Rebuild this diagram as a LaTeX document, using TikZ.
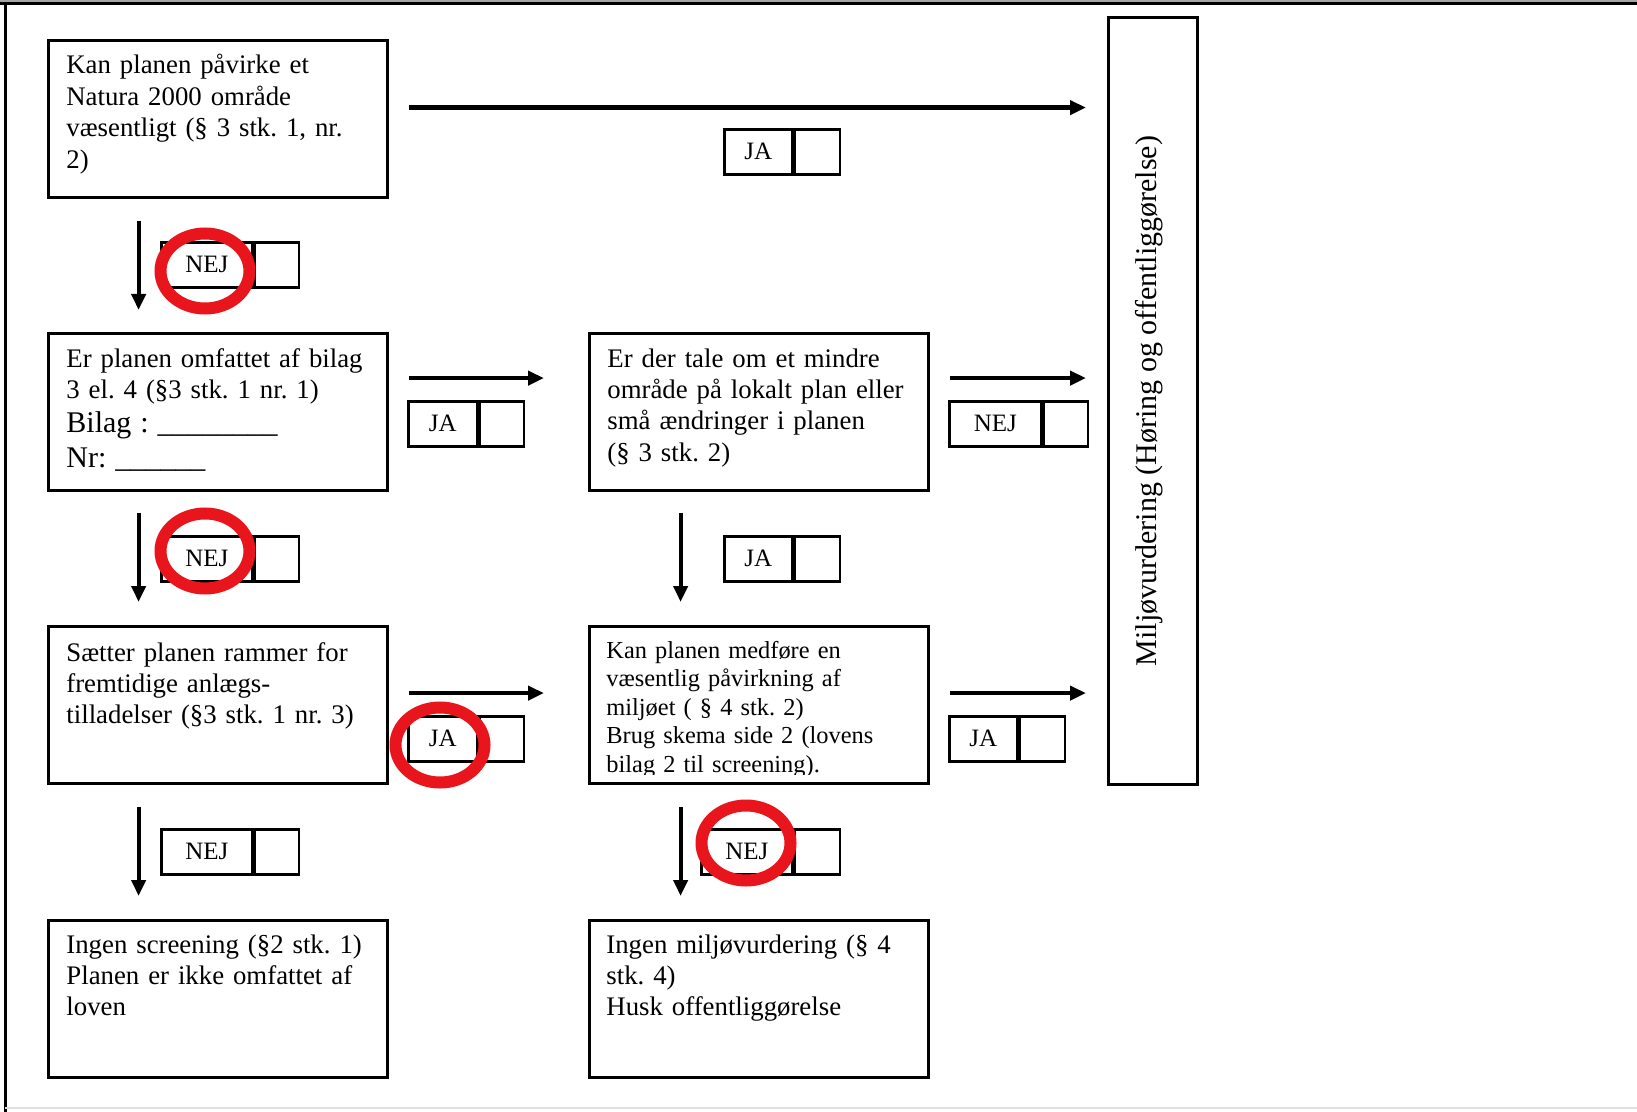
\documentclass[tikz,border=0pt]{standalone}
\usepackage{fontspec}
\setmainfont{Liberation Serif}
\usetikzlibrary{arrows.meta,calc}
\definecolor{ringred}{RGB}{232,22,28}
\frenchspacing
\tikzset{
  box/.style={draw, line width=1.6pt, minimum width=169.5pt, minimum height=78.5pt, anchor=north west, inner sep=0pt},
  btext/.style={anchor=base west, inner sep=0pt, text width=168pt, align=left, font=\fontsize{13.4}{15.7}\selectfont\frenchspacing},
  stext/.style={anchor=base west, inner sep=0pt, text width=168pt, align=left, font=\fontsize{12.2}{14.25}\selectfont\frenchspacing},
  lab/.style={draw, line width=1.35pt, minimum height=22.5pt, inner sep=0pt, anchor=north west, font=\fontsize{12.5}{14}\selectfont},
  labe/.style={draw, line width=1.35pt, minimum height=22.5pt, inner sep=0pt, anchor=west},
  arr/.style={line width=2.1pt, -{Triangle[length=8pt,width=7pt]}},
  ring/.style={draw=ringred, line width=6pt},
}
\begin{document}
\begin{tikzpicture}[x=0.5pt,y=-0.5pt]
\useasboundingbox (0,0) rectangle (1637,1112);
\fill[white] (0,0) rectangle (1637,1112);
% frame
\fill[black!35] (0,0) rectangle (1637,2.5);
\draw[line width=1.5pt] (0,4) -- (1637,4);
\draw[line width=1.5pt] (5,4) -- (5,1112);
\draw[black!12, line width=0.8pt] (5,1108) -- (1637,1108);

% boxes
\node[box] (b1) at (47,39) {};
\node[box] (b2) at (47,332) {};
\node[box] (b3) at (47,625) {};
\node[box] (b4) at (47,919) {};
\node[box] (b5) at (588,332) {};
\node[box] (b6) at (588,625) {};
\node[box] (b7) at (588,919) {};
\node[draw, line width=1.6pt, minimum width=44.5pt, minimum height=383.5pt, anchor=north west, inner sep=0pt] (rb) at (1107,16) {};

% texts
\node[btext] (t1) at (66,74) {Kan planen påvirke et\\Natura 2000 område\\væsentligt (§ 3 stk. 1, nr.\\2)};
\node[btext] (t2) at (66,367) {Er planen omfattet af bilag\\3 el. 4 (§3 stk. 1 nr. 1)\\[1.3pt]{\fontsize{15}{15.7}\selectfont Bilag : \_\_\_\_\_\_\_\_}\\[1.8pt]{\fontsize{15}{15.7}\selectfont Nr: \_\_\_\_\_\_}};
\node[btext] (t3) at (66,661) {Sætter planen rammer for\\fremtidige anlægs-\\tilladelser (§3 stk. 1 nr. 3)};
\node[btext] (t4) at (66,953) {Ingen screening (§2 stk. 1)\\Planen er ikke omfattet af\\loven};
\node[btext] (t5) at (607,367) {Er der tale om et mindre\\område på lokalt plan eller\\små ændringer i planen\\(§ 3 stk. 2)};
\begin{scope}
\clip (588,625) rectangle (927,774);
\node[stext] (t6) at (606,658) {Kan planen medføre en\\væsentlig påvirkning af\\miljøet ( § 4 stk. 2)\\Brug skema side 2 (lovens\\bilag 2 til screening).};
\end{scope}
\node[btext] (t7) at (606,953) {Ingen miljøvurdering (§ 4\\stk. 4)\\Husk offentliggørelse};
\node[rotate=90, inner sep=0pt, font=\fontsize{15}{18}\selectfont] (tr) at ($(rb.center)+(-4,0)$) {Miljøvurdering (Høring og offentliggørelse)};

% arrows
\draw[arr] ($(b1.east)+(20,-11.5)$) -- ($(b1.east -| rb.west)+(-21,-11.5)$);
\draw[arr] ($(b2.east)+(20,-34)$) -- ($(b5.west)+(-44,-34)$);
\draw[arr] ($(b5.east)+(20,-34)$) -- ($(b5.east -| rb.west)+(-21,-34)$);
\draw[arr] ($(b3.east)+(20,-12)$) -- ($(b6.west)+(-44,-12)$);
\draw[arr] ($(b6.east)+(20,-12)$) -- ($(b6.east -| rb.west)+(-21,-12)$);
\draw[arr] ($(b1.south)+(-79.5,22)$) -- ($(b2.north)+(-79.5,-22)$);
\draw[arr] ($(b2.south)+(-79.5,21)$) -- ($(b3.north)+(-79.5,-23)$);
\draw[arr] ($(b3.south)+(-79.5,22)$) -- ($(b4.north)+(-79.5,-23)$);
\draw[arr] ($(b5.south)+(-78.5,21)$) -- ($(b6.north)+(-78.5,-23)$);
\draw[arr] ($(b6.south)+(-78.5,22)$) -- ($(b7.north)+(-78.5,-23)$);

% label boxes
\node[lab, minimum width=34pt] (l1) at (723,128) {JA};
\node[labe, minimum width=22.5pt] (l1e) at (l1.east) {};
\node[lab, minimum width=45.5pt] (l2) at (160,241) {NEJ};
\node[labe, minimum width=22pt] (l2e) at (l2.east) {};
\node[lab, minimum width=34.5pt] (l3) at (407,400) {JA};
\node[labe, minimum width=22pt] (l3e) at (l3.east) {};
\node[lab, minimum width=46pt] (l4) at (948,400) {NEJ};
\node[labe, minimum width=22pt] (l4e) at (l4.east) {};
\node[lab, minimum width=45.5pt] (l5) at (160,535) {NEJ};
\node[labe, minimum width=22pt] (l5e) at (l5.east) {};
\node[lab, minimum width=34pt] (l6) at (723,535) {JA};
\node[labe, minimum width=22.5pt] (l6e) at (l6.east) {};
\node[lab, minimum width=34.5pt] (l7) at (407,715) {JA};
\node[labe, minimum width=22pt] (l7e) at (l7.east) {};
\node[lab, minimum width=34pt] (l8) at (948,715) {JA};
\node[labe, minimum width=22.5pt] (l8e) at (l8.east) {};
\node[lab, minimum width=45.5pt] (l9) at (160,828) {NEJ};
\node[labe, minimum width=22pt] (l9e) at (l9.east) {};
\node[lab, minimum width=45.5pt] (l10) at (700,828) {NEJ};
\node[labe, minimum width=22.5pt] (l10e) at (l10.east) {};

% red rings
\draw[ring] (205,271) ellipse [x radius=22.25pt, y radius=18.75pt];
\draw[ring] (205,551) ellipse [x radius=22.25pt, y radius=18.75pt];
\draw[ring] (440,745) ellipse [x radius=22.25pt, y radius=18.75pt];
\draw[ring] (746,843) ellipse [x radius=22.25pt, y radius=18.75pt];
\end{tikzpicture}
\end{document}
